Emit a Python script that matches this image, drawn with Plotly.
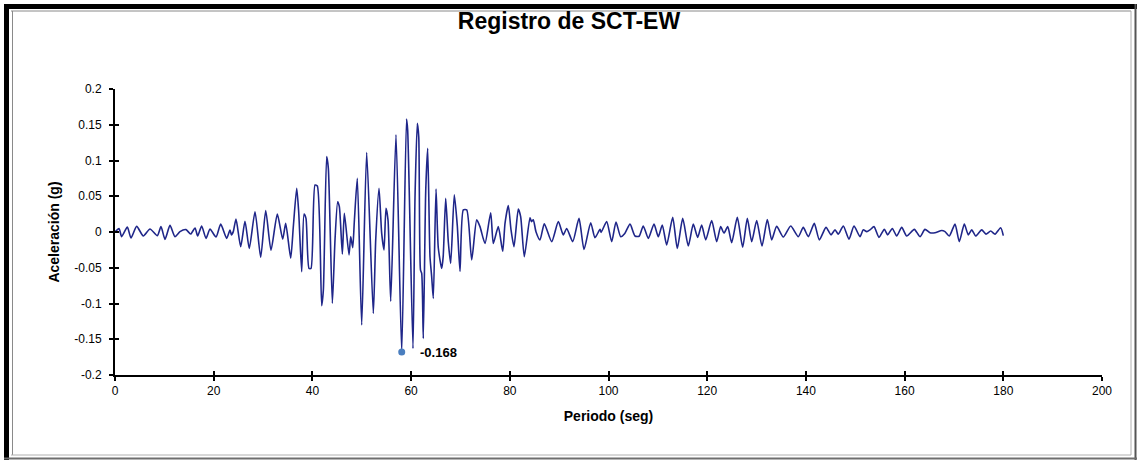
import plotly.graph_objects as go

# ---- data ----
time_s = [
    0.0, 0.81, 1.35, 2.50, 3.24, 4.39, 5.74, 7.09, 8.58, 9.32, 10.13, 11.14, 12.16, 13.17,
    14.39, 15.33, 16.21, 16.75, 17.56, 18.44, 19.25, 20.47, 21.42, 22.63, 23.3, 23.6, 23.97,
    24.52, 25.47, 26.34, 27.21, 28.37, 29.52, 30.54, 31.61, 32.89, 33.98, 34.59, 35.60, 36.13,
    36.82, 37.22, 37.83, 38.30, 38.70, 39.31, 39.72, 40.53, 41.00, 41.88, 42.22, 42.89, 43.23,
    44.04, 44.58, 45.12, 45.46, 46.07, 46.47, 47.42, 47.76, 48.17, 48.49, 49.10, 49.99, 51.00,
    52.34, 52.83, 53.50, 54.04, 54.51, 54.91, 55.32, 55.87, 56.94, 58.10, 59.07, 59.30, 60.38,
    60.79, 61.26, 61.55, 61.90, 62.15, 62.47, 62.96, 63.36, 63.83, 64.17, 64.50, 65.05, 65.51,
    66.20, 66.50, 67.01, 67.54, 68.02, 68.75, 69.36, 69.91, 70.58, 71.27, 72.28, 73.29, 73.96,
    74.97, 76.13, 76.66, 77.67, 78.56, 79.03, 79.70, 80.24, 80.85, 81.72, 82.20, 82.94, 84.09,
    84.40, 84.76, 85.30, 86.12, 86.99, 88.49, 89.83, 90.84, 91.53, 92.75, 94.02, 95.04, 96.39,
    97.26, 98.28, 98.50, 99.63, 100.65, 101.52, 102.47, 103.30, 104.36, 105.37, 106.20, 107.05,
    108.07, 109.22, 110.09, 110.90, 111.79, 113.01, 113.94, 115.04, 116.17, 117.18, 118.07,
    118.88, 119.70, 120.91, 121.92, 122.73, 123.40, 124.16, 124.96, 126.10, 127.19, 128.13,
    129.02, 130.03, 131.10, 132.18, 133.07, 134.08, 135.42, 136.92, 138.46, 139.47, 140.49,
    141.70, 142.72, 144.07, 145.09, 145.90, 146.57, 147.58, 148.73, 149.75, 150.96, 151.63,
    152.32, 152.99, 153.80, 154.81, 155.89, 156.57, 157.51, 158.40, 159.41, 160.43, 161.97,
    163.12, 164.13, 165.15, 166.16, 167.52, 168.19, 169.06, 170.21, 171.08, 172.10, 172.91,
    173.60, 174.41, 175.62, 176.49, 177.45, 178.32, 179.47, 180.0,
]
accel_g = [
    0.0, 0.0047, -0.0065, 0.0070, -0.0084, 0.0079, -0.0056, 0.0042, -0.0051, 0.0075, -0.0103,
    0.0093, -0.0065, 0.0005, 0.0033, -0.0028, 0.0056, -0.0056, 0.0084, -0.0089, 0.0040, -0.0070,
    0.0110, -0.0089, 0.0028, -0.0040, 0.0005, 0.0180, -0.0205, 0.0150, -0.0230, 0.0284, -0.0354,
    0.0300, -0.0255, 0.0250, -0.0100, 0.0120, -0.0365, 0.0070, 0.0611, 0.0284, -0.0555, 0.0252,
    0.0191, -0.0508, -0.0508, 0.0657, 0.0643, -0.1030, -0.0811, 0.1054, 0.0890, -0.0998, -0.0112,
    0.0424, 0.0354, -0.0308, 0.0261, -0.0320, -0.0065, -0.0220, 0.0140, 0.0750, -0.1300, 0.1110,
    -0.1140, -0.0110, 0.0610, -0.0020, -0.0250, 0.0330, 0.0170, -0.0970, 0.1360, -0.1680, 0.1580,
    0.1430, -0.1630, 0.0480, 0.1520, 0.1330, -0.0530, -0.0580, -0.1490, 0.0570, 0.1170, -0.0345,
    -0.0625, -0.0930, 0.0600, -0.0220, -0.0510, -0.0345, 0.0470, -0.0140, -0.0440, 0.0520, 0.0090,
    -0.0550, 0.0310, 0.0310, -0.0390, 0.0170, 0.0075, -0.0160, 0.0270, -0.0160, 0.0075, -0.0270,
    0.0120, 0.0370, 0.0035, -0.0205, 0.0320, 0.0214, -0.0345, 0.0200, 0.0145, 0.0170, 0.0005,
    -0.0110, 0.0115, -0.0135, 0.0145, -0.0040, 0.0050, -0.0135, 0.0190, -0.0245, 0.0130, -0.0080,
    0.0037, -0.0005, 0.0145, -0.0135, 0.0140, -0.0065, -0.0020, 0.0110, -0.0056, -0.0060, 0.0084,
    -0.0090, 0.0110, -0.0065, 0.0098, -0.0180, 0.0205, -0.0230, 0.0190, -0.0196, 0.0110, -0.0075,
    0.0098, -0.0110, 0.0160, -0.0135, 0.0075, -0.0015, 0.0075, -0.0150, 0.0205, -0.0214, 0.0190,
    -0.0135, 0.0160, -0.0196, 0.0175, -0.0110, 0.0080, -0.0070, 0.0084, -0.0065, 0.0065, -0.0065,
    0.0120, -0.0110, 0.0065, -0.0040, 0.0030, -0.0030, 0.0084, -0.0100, 0.0084, -0.0065, 0.0030,
    0.0005, 0.0030, 0.0075, -0.0075, 0.0037, -0.0040, 0.0050, -0.0056, 0.0065, -0.0056, 0.0037,
    -0.0065, 0.0037, -0.0010, -0.0010, 0.0020, 0.0005, -0.0056, 0.0110, -0.0135, 0.0110, -0.0040,
    0.0030, -0.0056, 0.0030, -0.0030, 0.0014, -0.0030, 0.0060, -0.0050,
]
peak_time = [58.10]
peak_accel = [-0.168]

x_ticks = [0, 20, 40, 60, 80, 100, 120, 140, 160, 180, 200]
y_ticks = [0.2, 0.15, 0.1, 0.05, 0, -0.05, -0.1, -0.15, -0.2]
y_tick_text = ["0.2", "0.15", "0.1", "0.05", "0", "-0.05", "-0.1", "-0.15", "-0.2"]

FONT = "Arial, 'Liberation Sans', Helvetica, sans-serif"
W, H = 1138, 461
ML, MR, MT, MB = 115, 36, 89, 86
PW, PH = W - ML - MR, H - MT - MB


def px(xp):
    return (xp - ML) / PW


def py(yp):
    return (H - MB - yp) / PH


def hline(x0, x1, y, color, width):
    return dict(type="line", xref="paper", yref="paper", x0=px(x0), x1=px(x1),
                y0=py(y), y1=py(y), line=dict(color=color, width=width), layer="below")


def vline(x, y0, y1, color, width):
    return dict(type="line", xref="paper", yref="paper", x0=px(x), x1=px(x),
                y0=py(y0), y1=py(y1), line=dict(color=color, width=width), layer="below")


fig = go.Figure()
fig.add_trace(go.Scatter(
    x=time_s, y=accel_g, mode="lines",
    line=dict(color="#1f2689", width=1.6, shape="spline", smoothing=0.6),
    hoverinfo="skip", showlegend=False,
))
fig.add_trace(go.Scatter(
    x=peak_time, y=peak_accel, mode="markers",
    marker=dict(color="#4a7ebf", size=7, line=dict(width=0)),
    hoverinfo="skip", showlegend=False,
))
fig.add_annotation(
    x=peak_time[0], y=peak_accel[0], text="<b>%.3f</b>" % peak_accel[0],
    showarrow=False, xanchor="left", yanchor="middle", xshift=16, yshift=0,
    font=dict(family=FONT, size=13, color="black"),
)

axis_common = dict(showgrid=False, zeroline=False, showline=True, linecolor="black",
                   linewidth=2, tickcolor="black", tickwidth=1.5, ticklen=4)

fig.update_layout(
    width=W, height=H,
    margin=dict(l=ML, r=MR, t=MT, b=MB, pad=0),
    paper_bgcolor="white", plot_bgcolor="white",
    font=dict(family=FONT, size=12, color="black"),
    title=dict(text="<b>Registro de SCT-EW</b>", x=(569 - ML) / PW, xref="paper",
               xanchor="center", y=1 - 21 / H, yanchor="middle",
               font=dict(size=23, family=FONT)),
    xaxis=dict(range=[0, 200], tickvals=x_ticks, ticks="outside",
               title=dict(text="<b>Periodo (seg)</b>", font=dict(size=14), standoff=14),
               tickfont=dict(size=12), **axis_common),
    yaxis=dict(range=[-0.2, 0.2], tickvals=y_ticks, ticktext=y_tick_text, ticks="outside",
               ticklabelstandoff=5,
               title=dict(text="<b>Aceleración (g)</b>", font=dict(size=14), standoff=11),
               tickfont=dict(size=12), **axis_common),
    xaxis2=dict(range=[0, 200], tickvals=x_ticks, ticks="inside", overlaying="x",
                anchor="y", side="bottom", showticklabels=False, **axis_common),
    yaxis2=dict(range=[-0.2, 0.2], tickvals=y_ticks, ticks="inside", overlaying="y",
                anchor="x", side="left", showticklabels=False, **axis_common),
    shapes=[
        # outer frame: heavy top/left, light right/bottom
        hline(4, 1137, 6.5, "black", 5),
        vline(6.5, 4, 460, "black", 5),
        vline(1135.5, 4, 460, "#555555", 2),
        hline(4, 1137, 458.5, "#6e6e6e", 2),
        # inner thin frame
        hline(11, 1131, 11, "#8a8a8a", 1),
        vline(12.5, 11, 455, "#8a8a8a", 1),
        vline(1131, 11, 455, "#b0b0b0", 1),
        hline(11, 1131, 455, "#b0b0b0", 1),
    ],
)
# invisible trace so the secondary axes are drawn
fig.add_trace(go.Scatter(x=[None], y=[None], xaxis="x2", yaxis="y2", showlegend=False,
                         hoverinfo="skip"))

fig.write_html("out.html", config={"displayModeBar": False},
               post_script="document.body.style.margin='0';document.body.style.overflow='hidden';")
